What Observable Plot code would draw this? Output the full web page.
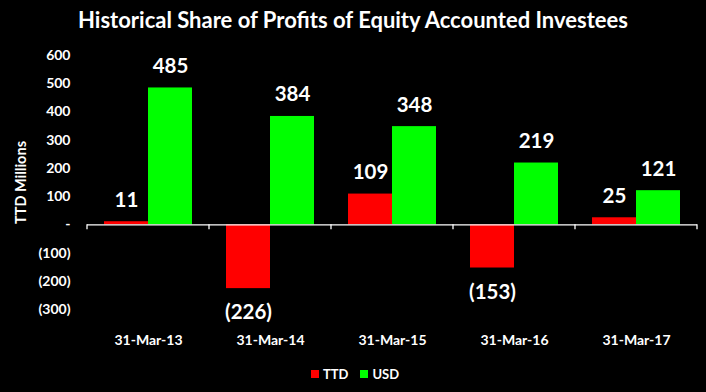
<!DOCTYPE html>
<html>
<head>
<meta charset="utf-8">
<script src="https://cdn.jsdelivr.net/npm/d3@7"></script>
<script src="https://cdn.jsdelivr.net/npm/@observablehq/plot@0.6"></script>
<style>
  html, body { margin: 0; padding: 0; background: #000; }
  #wrap { width: 706px; height: 392px; background: #000; font-family: Lato, "Open Sans", sans-serif; font-weight: bold; color: #fff; }
  #title { height: 40px; line-height: 40px; text-align: center; font-size: 22px; }
  #legend { height: 36px; display: flex; justify-content: center; align-items: center; gap: 12px; font-size: 13px; padding-left: 4px; }
  .sw { display: inline-block; width: 8px; height: 8px; margin-right: 4px; vertical-align: middle; }
  .item { display: flex; align-items: center; }
  svg { display: block; }
</style>
</head>
<body>
<div id="wrap">
  <div id="title">Historical Share of Profits of Equity Accounted Investees</div>
  <div id="chart"></div>
  <div id="legend"></div>
</div>
<script>
const dates = ["31-Mar-13", "31-Mar-14", "31-Mar-15", "31-Mar-16", "31-Mar-17"];
const series = ["TTD", "USD"];
const ttdValues = [11, -226, 109, -153, 25];
const usdValues = [485, 384, 348, 219, 121];
const colors = ["#ff0000", "#00ff00"];
const yTicks = [-300, -200, -100, 0, 100, 200, 300, 400, 500, 600];

const data = [];
dates.forEach((d, i) => {
  data.push({date: d, series: "TTD", value: ttdValues[i]});
  data.push({date: d, series: "USD", value: usdValues[i]});
});

const fmt = v => v === 0 ? "-" : v < 0 ? `(${Math.abs(v)})` : `${v}`;

const chart = Plot.plot({
  width: 706,
  height: 316,
  marginLeft: 87,
  marginRight: 9,
  marginTop: 15,
  marginBottom: 47,
  style: {background: "#000", color: "#fff", fontFamily: "Lato, 'Open Sans', sans-serif", fontWeight: "bold", fontSize: "14px"},
  fx: {domain: dates, padding: 0, label: null},
  x: {domain: series, paddingInner: 0, paddingOuter: 0.356, axis: null},
  y: {domain: [-300, 600]},
  color: {domain: series, range: colors},
  marks: [
    Plot.axisY({ticks: yTicks, tickSize: 0, tickPadding: 17, tickFormat: fmt, label: null, fontSize: 14}),
    Plot.axisY({ticks: [], tickSize: 0, label: "TTD Millions", labelAnchor: "center", labelOffset: 72, labelArrow: "none", fontSize: 14.5}),
    Plot.axisFx({anchor: "bottom", tickSize: 0, tickPadding: 26, label: null, fontSize: 14}),
    Plot.barY(data, {fx: "date", x: "series", y: "value", fill: "series"}),
    Plot.ruleY([0], {stroke: "#fff", strokeWidth: 1.3}),
    Plot.text(data.filter(d => d.value >= 0), {fx: "date", x: "series", y: "value", text: d => fmt(d.value), lineAnchor: "bottom", dy: -15, fill: "#fff", fontSize: 20.5, fontWeight: "bold"}),
    Plot.text(data.filter(d => d.value < 0), {fx: "date", x: "series", y: "value", text: d => fmt(d.value), lineAnchor: "top", dy: 16, fill: "#fff", fontSize: 20.5, fontWeight: "bold"})
  ]
});

document.getElementById("chart").appendChild(chart);

// boundary ticks on the zero line, from the library's fx and y scales
const fx = chart.scale("fx");
const ys = chart.scale("y");
const y0 = ys.apply(0);
const edges = dates.map(d => fx.apply(d)).concat([fx.apply(dates[dates.length - 1]) + fx.bandwidth]);
const svg = d3.select(chart.tagName.toLowerCase() === "svg" ? chart : chart.querySelector("svg"));
svg.append("g").attr("stroke", "#fff").attr("stroke-width", 1.3)
  .selectAll("line").data(edges).join("line")
  .attr("x1", d => d).attr("x2", d => d)
  .attr("y1", y0).attr("y2", y0 + 5);

// legend
const legend = d3.select("#legend");
series.forEach((s, i) => {
  const item = legend.append("div").attr("class", "item");
  item.append("span").attr("class", "sw").style("background", colors[i]);
  item.append("span").text(s);
});
</script>
</body>
</html>
